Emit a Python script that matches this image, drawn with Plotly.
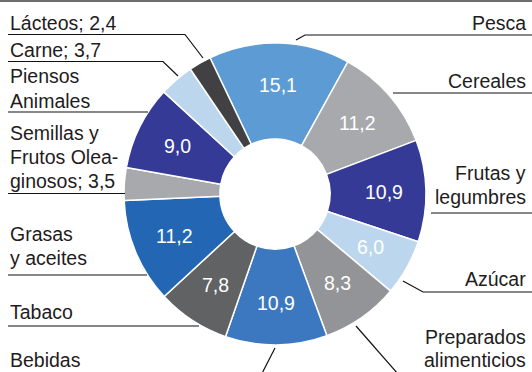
import math
import plotly.graph_objects as go

# Distribution by product group (percent), clockwise from the top
categories = [
    "Pesca", "Cereales", "Frutas y legumbres", "Azúcar",
    "Preparados alimenticios", "Bebidas", "Tabaco", "Grasas y aceites",
    "Semillas y Frutos Oleaginosos", "Piensos Animales", "Carne", "Lácteos",
]
values = [15.1, 11.2, 10.9, 6.0, 8.3, 10.9, 7.8, 11.2, 3.5, 9.0, 3.7, 2.4]
# small slices carry their value in the outside label instead
show_inside = [True, True, True, True, True, True, True, True, False, True, False, False]

colors = [
    "#5d9bd4", "#a7a9ac", "#343a96", "#bcd6ee",
    "#929497", "#3b78c0", "#616264", "#2367b4",
    "#a7a9ac", "#343a96", "#bcd6ee", "#414143",
]

W, H = 532, 372
FONT = "Liberation Sans, Arial, sans-serif"
FS = 19.5
TXT = "#1f1c1d"


def fx(px):
    return px / W


def fy(py):
    return 1 - py / H


def fmt(v):
    return f"{v:.1f}".replace(".", ",")


# outside labels, one entry per text line
outside_lines = {
    "Lácteos": [f"Lácteos; {fmt(values[11])}"],
    "Carne": [f"Carne; {fmt(values[10])}"],
    "Piensos Animales": ["Piensos", "Animales"],
    "Semillas y Frutos Oleaginosos": ["Semillas y", "Frutos Olea-", f"ginosos; {fmt(values[8])}"],
    "Grasas y aceites": ["Grasas", "y aceites"],
    "Tabaco": ["Tabaco"],
    "Bebidas": ["Bebidas"],
    "Pesca": ["Pesca"],
    "Cereales": ["Cereales"],
    "Frutas y legumbres": ["Frutas y", "legumbres"],
    "Azúcar": ["Azúcar"],
    "Preparados alimenticios": ["Preparados", "alimenticios"],
}

# donut placement in pixels
cx, cy, r_out = 275, 194, 151
hole = 0.365
rotation = -25.5
r_text = 109

fig = go.Figure(
    go.Pie(
        labels=categories,
        values=values,
        textinfo="none",
        marker=dict(colors=colors, line=dict(color="white", width=1.5)),
        hole=hole,
        sort=False,
        direction="clockwise",
        rotation=rotation,
        domain=dict(x=[fx(cx - r_out), fx(cx + r_out)],
                    y=[fy(cy + r_out), fy(cy - r_out)]),
        showlegend=False,
        hoverinfo="label+value",
    )
)

annotations = []

# value labels centred in each slice's ring segment
total = sum(values)
cum = 0.0
for v, show in zip(values, show_inside):
    mid = math.radians(rotation + 360 * (cum + v / 2) / total)
    cum += v
    if not show:
        continue
    annotations.append(dict(
        text=fmt(v), x=fx(cx + r_text * math.sin(mid)), y=fy(cy - r_text * math.cos(mid)),
        xref="paper", yref="paper", xanchor="center", yanchor="middle",
        showarrow=False, font=dict(family=FONT, size=FS, color="white"),
    ))

# outside label placement: (category, x, baselines, side)
label_layout = [
    ("Lácteos", 8, [30], "left"),
    ("Carne", 8, [57], "left"),
    ("Piensos Animales", 8, [82.3, 107.3], "left"),
    ("Semillas y Frutos Oleaginosos", 8, [139.3, 163.5, 187.7], "left"),
    ("Grasas y aceites", 8, [241, 265], "left"),
    ("Tabaco", 8, [319], "left"),
    ("Bebidas", 8, [366.5], "left"),
    ("Pesca", 528, [29.3], "right"),
    ("Cereales", 528, [87.3], "right"),
    ("Frutas y legumbres", 528, [180, 203.3], "right"),
    ("Azúcar", 528, [286], "right"),
    ("Preparados alimenticios", 528, [343.5, 366.5], "right"),
]

for cat, x, baselines, side in label_layout:
    for line, base in zip(outside_lines[cat], baselines):
        annotations.append(dict(
            text=line, x=fx(x), y=fy(base - 0.3465 * FS), xref="paper", yref="paper",
            xanchor=side, yanchor="middle", showarrow=False,
            font=dict(family=FONT, size=FS, color=TXT),
        ))

# leader lines (pixel polylines)
leaders = [
    [(8, 34.5), (185, 34.5), (203, 58)],
    [(8, 61.5), (163, 61.5), (178, 76)],
    [(8, 112), (148, 112)],
    [(8, 193.5), (125, 193.5)],
    [(8, 275), (147, 275)],
    [(8, 326), (199, 326)],
    [(275, 348), (257.6, 382)],
    [(532, 35), (305, 35), (296, 40)],
    [(532, 93), (393, 93)],
    [(532, 213), (431, 213)],
    [(532, 292), (423, 292), (403, 281)],
    [(356, 326), (405, 382)],
]

shapes = []
for pts in leaders:
    path = "M " + " L ".join(f"{fx(a):.5f},{fy(b):.5f}" for a, b in pts)
    shapes.append(dict(type="path", path=path, xref="paper", yref="paper",
                       line=dict(color="#111111", width=1.2)))

# rule along the top edge
shapes.append(dict(type="line", x0=0, x1=1, y0=fy(1), y1=fy(1),
                   xref="paper", yref="paper",
                   line=dict(color="#6d6e71", width=2)))

fig.update_layout(
    width=W, height=H,
    margin=dict(l=0, r=0, t=0, b=0),
    paper_bgcolor="white",
    plot_bgcolor="white",
    annotations=annotations,
    shapes=shapes,
    showlegend=False,
)

fig.write_html("out.html", config={"displayModeBar": False})
